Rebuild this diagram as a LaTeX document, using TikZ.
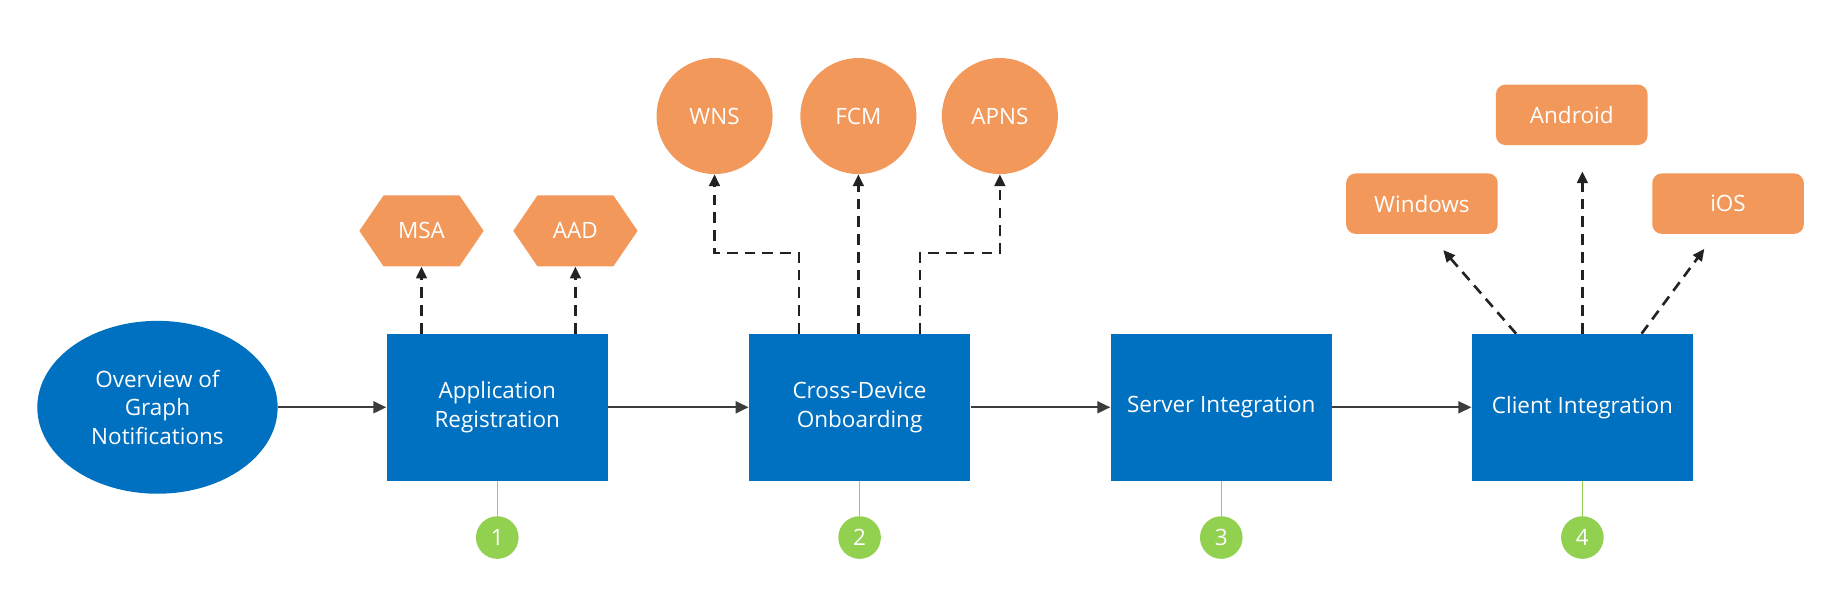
\documentclass[tikz,border=0pt]{standalone}
\usepackage{fontspec}
\setmainfont{Open Sans}
\usetikzlibrary{shapes.geometric,arrows.meta}
\definecolor{mblue}{HTML}{0070C0}
\definecolor{morange}{HTML}{F1985A}
\definecolor{mgreen}{HTML}{92D050}
\definecolor{marrow}{HTML}{3C3C3C}
\definecolor{mdash}{HTML}{222222}
\begin{document}
\begin{tikzpicture}[x=1pt,y=-1pt,
  txt/.style={text=white,align=center,font=\fontsize{19}{24}\selectfont,inner sep=0pt},
  stepbox/.style={txt,fill=mblue,minimum width=187pt,minimum height=124pt},
  bigoval/.style={txt,ellipse,fill=mblue,minimum width=203pt,minimum height=146pt},
  hexlbl/.style={txt,minimum width=105pt,minimum height=60pt},
  svc/.style={txt,circle,fill=morange,minimum size=98pt},
  plat/.style={txt,fill=morange,rounded corners=8pt,minimum width=128pt,minimum height=51pt},
  num/.style={txt,circle,fill=mgreen,minimum size=36pt},
  flow/.style={draw=marrow,line width=2pt,-{Triangle[length=11pt,width=10pt]}},
  dashy/.style={draw=mdash,line width=2.2pt,dash pattern=on 9pt off 6pt,-{Triangle[length=10pt,width=9pt]}},
  tick/.style={draw=mgreen,line width=1pt}]
\useasboundingbox (0,0) rectangle (1560,515);
% main flow
\node[bigoval] (ov) at (133,344) {Overview of\\Graph\\Notifications};
\node[stepbox] (b1) at (420,344) {Application\\Registration};
\node[stepbox] (b2) at (726,344) {Cross-Device\\Onboarding};
\node[stepbox] (b3) at (1031.5,344) {Server Integration};
\node[stepbox] (b4) at (1336.5,344) {Client Integration};
\draw[flow] (ov.east) -- (b1.west);
\draw[flow] (b1.east) -- (b2.west);
\draw[flow] (b2.east) -- (b3.west);
\draw[flow] (b3.east) -- (b4.west);
% numbers
\node[num] (n1) at (420,454) {1};
\node[num] (n2) at (726,454) {2};
\node[num] (n3) at (1031.5,454) {3};
\node[num] (n4) at (1336.5,454) {4};
\draw[tick] (b1.south) -- (n1.north);
\draw[tick] (b2.south) -- (n2.north);
\draw[tick] (b3.south) -- (n3.north);
\draw[tick] (b4.south) -- (n4.north);
% hexagons
\fill[morange] (303.5,195) -- (324,165) -- (388,165) -- (408.5,195) -- (388,225) -- (324,225) -- cycle;
\fill[morange] (433.5,195) -- (454,165) -- (518,165) -- (538.5,195) -- (518,225) -- (454,225) -- cycle;
\node[hexlbl] (msa) at (356,195) {MSA};
\node[hexlbl] (aad) at (486,195) {AAD};
\draw[dashy] (b1.north -| msa.south) -- (msa.south);
\draw[dashy] (b1.north -| aad.south) -- (aad.south);
% push services
\node[svc] (wns) at (603.5,98) {WNS};
\node[svc] (fcm) at (725,98) {FCM};
\node[svc] (apns) at (844.5,98) {APNS};
\draw[dashy] ([xshift=-51pt]b2.north) -- ++(0,-68) -| (wns.south);
\draw[dashy] (b2.north -| fcm.south) -- (fcm.south);
\draw[dashy] ([xshift=51pt]b2.north) -- ++(0,-68) -| (apns.south);
% platforms
\node[plat] (and) at (1327.5,97) {Android};
\node[plat] (win) at (1201,172) {Windows};
\node[plat] (ios) at (1459.5,172) {iOS};
\draw[dashy] ([xshift=-56pt]b4.north) -- ([xshift=18pt,yshift=-13.5pt]win.south);
\draw[dashy] (b4.north) -- ([yshift=-22pt]b4.north |- and.south);
\draw[dashy] ([xshift=50pt]b4.north) -- ([xshift=-20pt,yshift=-12.5pt]ios.south);
\end{tikzpicture}
\end{document}
